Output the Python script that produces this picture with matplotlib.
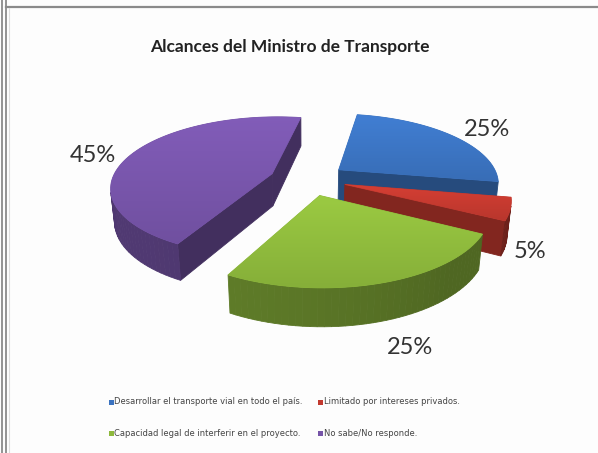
import numpy as np
import matplotlib.pyplot as plt
from matplotlib.patches import Polygon, Rectangle
from matplotlib.lines import Line2D
from matplotlib.colors import to_rgb

title = "Alcances del Ministro de Transporte"
categories = ["Desarrollar el transporte vial en todo el país.",
              "Limitado por intereses privados.",
              "Capacidad legal de interferir en el proyecto.",
              "No sabe/No responde."]
values = [25, 5, 25, 45]
colors = ["#3B73C0", "#C2392F", "#8DB83C", "#7654A8"]

W, H = 598, 453

# 3-D pie view settings
start_angle = 10.0       # degrees clockwise from 12 o'clock
explode = 0.24
thick = 0.23
elev = np.radians(25.5)
dist = 5.0
focal = 800.0
cx, cy = 308.0, 179.0
cam = np.array([0.0, -dist * np.cos(elev), dist * np.sin(elev)])
light = np.array([-0.6, -0.5, 0.5])
light = light / np.linalg.norm(light)


def project(p):
    x, y, z = p
    u = x
    v = y * np.sin(elev) + z * np.cos(elev)
    w = y * np.cos(elev) - z * np.sin(elev)
    return (cx + focal * u / (dist + w), cy - focal * v / (dist + w))


def direction(a):
    r = np.radians(a)
    return np.array([np.sin(r), np.cos(r), 0.0])


def scaled(color, f):
    return tuple(min(1.0, c * f) for c in to_rgb(color))


def shade(color, normal, base=0.56, gain=0.14):
    return scaled(color, base + gain * max(0.0, float(np.dot(normal, light))))


fig = plt.figure(figsize=(W / 100, H / 100), dpi=100)
fig.patch.set_facecolor("#fdfdfd")
ax = fig.add_axes([0, 0, 1, 1])
ax.set_xlim(0, W)
ax.set_ylim(H, 0)
ax.axis("off")

# frame lines
for x in (2, 6):
    ax.add_line(Line2D([x, x], [0, H], color="#8a8a8a", lw=1.3))
ax.add_line(Line2D([6, W], [7, 7], color="#8a8a8a", lw=1.6))
ax.add_line(Line2D([8.5, 8.5], [8, H], color="#dddddd", lw=0.8))

total = float(sum(values))
slices = []
a = start_angle
for val, col in zip(values, colors):
    a0, a1 = a, a + 360.0 * val / total
    a = a1
    mid = (a0 + a1) / 2
    off = explode * direction(mid)
    slices.append((a0, a1, mid, off, col, val))


def slice_depth(s):
    a0, a1, mid, off, col, val = s
    cen = off + 0.5 * direction(mid)
    return np.linalg.norm(cen - cam)


z = 2
for a0, a1, mid, off, col, val in sorted(slices, key=slice_depth, reverse=True):
    angs = np.linspace(a0, a1, max(4, int((a1 - a0) / 2)))
    top = [off + direction(t) for t in angs]
    c_top = off.copy()
    dz = np.array([0, 0, -thick])
    faces = []
    # radial cut faces
    n0 = np.array([-np.cos(np.radians(a0)), np.sin(np.radians(a0)), 0])
    n1 = np.array([np.cos(np.radians(a1)), -np.sin(np.radians(a1)), 0])
    for n, edge in ((n0, top[0]), (n1, top[-1])):
        quad = [c_top, edge, edge + dz, c_top + dz]
        if np.dot(n, cam - c_top) > 0:
            faces.append((quad, shade(col, n)))
    # outer curved wall
    for p, q, t in zip(top[:-1], top[1:], (angs[:-1] + angs[1:]) / 2):
        n = direction(t)
        if np.dot(n, cam - p) > 0:
            faces.append(([p, q, q + dz, p + dz], shade(col, n)))
    for quad, fc in faces:
        pts = [project(p) for p in quad]
        ax.add_patch(Polygon(pts, closed=True, fc=fc, ec=fc, lw=0.6, zorder=z))
    z += 1

    # top face with a soft vertical gradient
    pts = np.array([project(c_top)] + [project(p) for p in top])
    outline = Polygon(pts, closed=True, fc=col, ec=col, lw=0.6, zorder=z)
    ax.add_patch(outline)
    x0, x1 = pts[:, 0].min(), pts[:, 0].max()
    y0, y1 = pts[:, 1].min(), pts[:, 1].max()
    ramp = np.linspace(1.1, 0.95, 64)[:, None, None]
    grad = np.clip(np.array(to_rgb(col))[None, None, :] * ramp, 0, 1)
    im = ax.imshow(np.repeat(grad, 2, axis=1), extent=(x0, x1, y1, y0),
                   aspect="auto", interpolation="bilinear", zorder=z + 0.5)
    im.set_clip_path(outline)
    z += 1

ax.set_xlim(0, W)
ax.set_ylim(H, 0)

# percentage labels
label_pos = [(487, 130), (530, 252), (410, 348), (93, 155)]
for (lx, ly), val in zip(label_pos, values):
    ax.text(lx, ly, f"{val}%", fontsize=17, family="Lato", color="#333333",
            ha="center", va="center", zorder=20)

ax.text(290, 47, title, fontsize=12.5, family="Lato", fontweight="bold",
        color="#222222", ha="center", va="center", zorder=20)

# legend
leg_pos = [(111, 402), (320, 402), (111, 433), (320, 433)]
for (lx, ly), name, col in zip(leg_pos, categories, colors):
    ax.add_patch(Rectangle((lx - 2.5, ly - 2.5), 5, 5, fc=col, ec="none"))
    ax.text(lx + 3.5, ly, name, fontsize=6.0, family="DejaVu Sans",
            color="#444444", ha="left", va="center")

fig.savefig("out.png", dpi=100, facecolor=fig.get_facecolor())
